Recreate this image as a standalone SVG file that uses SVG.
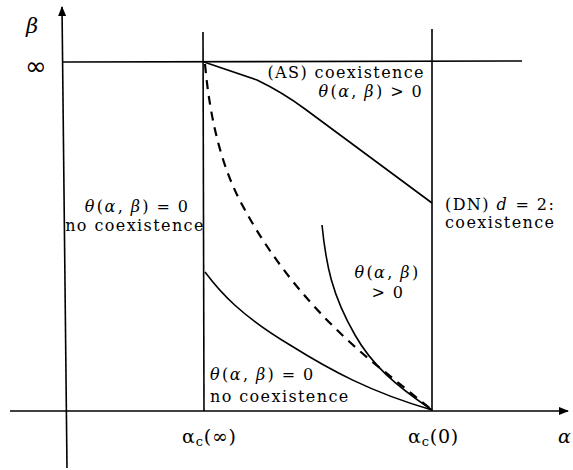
<svg xmlns="http://www.w3.org/2000/svg" width="573" height="470" viewBox="0 0 573 470">
<defs>
<marker id="arr" markerWidth="10" markerHeight="10" refX="9" refY="5" orient="auto" markerUnits="userSpaceOnUse">
<path d="M0,1 L10,5 L0,9 Z" fill="#000"/>
</marker>
<style>
.ln{stroke:#000;stroke-width:1.6;fill:none}
.cv{stroke:#000;stroke-width:1.6;fill:none;stroke-linejoin:round}
.ds{stroke:#000;stroke-width:2.2;fill:none;stroke-dasharray:9,7}
text{font-family:"DejaVu Serif","Liberation Serif",serif;font-size:16px;letter-spacing:1.4px;fill:#000}
.it{font-style:italic}
.ax{font-size:19px;letter-spacing:0.8px}
.sub{font-size:13px}
.beta{font-size:21px;letter-spacing:0}
.inf{font-family:"DejaVu Sans",sans-serif;font-size:26px;letter-spacing:0}
</style>
</defs>
<rect width="573" height="470" fill="#fff"/>
<g id="connectors">
<line class="ln" x1="67" y1="468" x2="62" y2="7" marker-end="url(#arr)"/>
<line class="ln" x1="10" y1="411" x2="568" y2="411" marker-end="url(#arr)"/>
<line class="ln" x1="62" y1="62" x2="522" y2="61"/>
<line class="ln" x1="203" y1="32" x2="204" y2="411"/>
<line class="ln" x1="432" y1="29" x2="432" y2="411"/>
<path class="cv" d="M204,62 L257,80 Q282,92 305,109 L432,203"/>
<path class="ds" d="M205,64 C210,120 222,170 245,210 C275,265 320,320 380,368 L432,410"/>
<path class="cv" d="M205,272 C220,292 240,315 290,345 C330,370 370,392 432,410"/>
<path class="cv" d="M322,225 C326,265 332,295 355,335 C372,365 395,385 432,410"/>
</g>
<g id="axis-labels">
<text class="it beta" x="26" y="33">β</text>
<text class="inf" x="25" y="75">∞</text>
<text class="ax" x="182" y="443">α<tspan class="sub" dy="3">c</tspan><tspan dy="-3">(∞)</tspan></text>
<text class="ax" x="408" y="443">α<tspan class="sub" dy="3">c</tspan><tspan dy="-3">(0)</tspan></text>
<text class="it ax" x="558" y="443">α</text>
</g>
<g id="label-as">
<text x="425" y="78" text-anchor="end">(AS) coexistence</text>
<text x="423" y="97" text-anchor="end"><tspan class="it">θ</tspan><tspan dx="1">(</tspan><tspan class="it">α</tspan><tspan dx="1">, </tspan><tspan class="it">β</tspan><tspan dx="1">) &gt; 0</tspan></text>
</g>
<g id="label-left">
<text x="137" y="212" text-anchor="middle"><tspan class="it">θ</tspan><tspan dx="1">(</tspan><tspan class="it">α</tspan><tspan dx="1">, </tspan><tspan class="it">β</tspan><tspan dx="1">) = 0</tspan></text>
<text x="135" y="231" text-anchor="middle">no coexistence</text>
</g>
<g id="label-dn">
<text x="445" y="210">(DN) <tspan class="it">d</tspan><tspan dx="1"> = 2:</tspan></text>
<text x="445" y="228">coexistence</text>
</g>
<g id="label-mid">
<text x="387" y="278" text-anchor="middle"><tspan class="it">θ</tspan><tspan dx="1">(</tspan><tspan class="it">α</tspan><tspan dx="1">, </tspan><tspan class="it">β</tspan><tspan dx="1">)</tspan></text>
<text x="388" y="298" text-anchor="middle">&gt; 0</text>
</g>
<g id="label-bottom">
<text x="210" y="380"><tspan class="it">θ</tspan><tspan dx="1">(</tspan><tspan class="it">α</tspan><tspan dx="1">, </tspan><tspan class="it">β</tspan><tspan dx="1">) = 0</tspan></text>
<text x="210" y="402">no coexistence</text>
</g>
</svg>
